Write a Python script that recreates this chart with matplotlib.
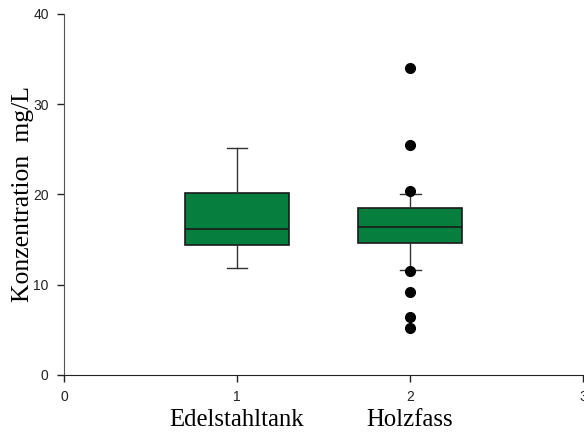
import matplotlib
matplotlib.use('Agg')
import matplotlib.pyplot as plt
import matplotlib.transforms as mtransforms

# box summary per tank type
groups = ['Edelstahltank', 'Holzfass']
positions = [1, 2]
q1 = [14.4, 14.6]
medians = [16.2, 16.4]
q3 = [20.2, 18.5]
whisker_low = [11.8, 11.6]
whisker_high = [25.1, 20.0]
outliers = [[], [34.0, 25.5, 20.4, 11.5, 9.2, 6.4, 5.2]]

box_color = '#067e3e'

stats = []
for i in range(len(groups)):
    stats.append({'q1': q1[i], 'med': medians[i], 'q3': q3[i],
                  'whislo': whisker_low[i], 'whishi': whisker_high[i],
                  'fliers': outliers[i], 'label': groups[i]})

fig = plt.figure(figsize=(5.84, 4.32), dpi=100)
ax = fig.add_axes([0.1096, 0.132, 0.889, 0.8356])

ax.bxp(stats, positions=positions, widths=0.6, patch_artist=True,
       boxprops=dict(facecolor=box_color, edgecolor='#1a1a1a', linewidth=1.2),
       medianprops=dict(color='#1a1a1a', linewidth=1.2),
       whiskerprops=dict(color='#333333', linewidth=1),
       capprops=dict(color='#333333', linewidth=1),
       capwidths=0.12,
       flierprops=dict(marker='o', markerfacecolor='black', markeredgecolor='black',
                       markersize=7, linestyle='none'))

ax.set_xlim(0, 3)
ax.set_ylim(0, 40)
ax.set_xticks([0, 1, 2, 3])
ax.set_xticklabels(['0', '1', '2', '3'])
ax.set_yticks([0, 10, 20, 30, 40])
for sp in ['top', 'right']:
    ax.spines[sp].set_visible(False)
ax.spines['left'].set_color('#555555')
ax.spines['bottom'].set_color('#222222')
ax.tick_params(axis='both', direction='out', length=5, width=1,
               labelsize=10, colors='#222222', pad=6)
for lab in ax.get_xticklabels() + ax.get_yticklabels():
    lab.set_fontfamily('Liberation Sans')

ax.set_ylabel('Konzentration  mg/L', fontfamily='Liberation Serif', fontsize=18.5)
ax.yaxis.set_label_coords(-0.057, 0.5)

# group names under the numeric ticks
trans = mtransforms.blended_transform_factory(ax.transData, ax.transAxes)
for pos, name in zip(positions, groups):
    ax.text(pos, -0.141, name, transform=trans, ha='center', va='baseline',
            fontfamily='Liberation Serif', fontsize=17.8)

fig.savefig('out.png', dpi=100)
